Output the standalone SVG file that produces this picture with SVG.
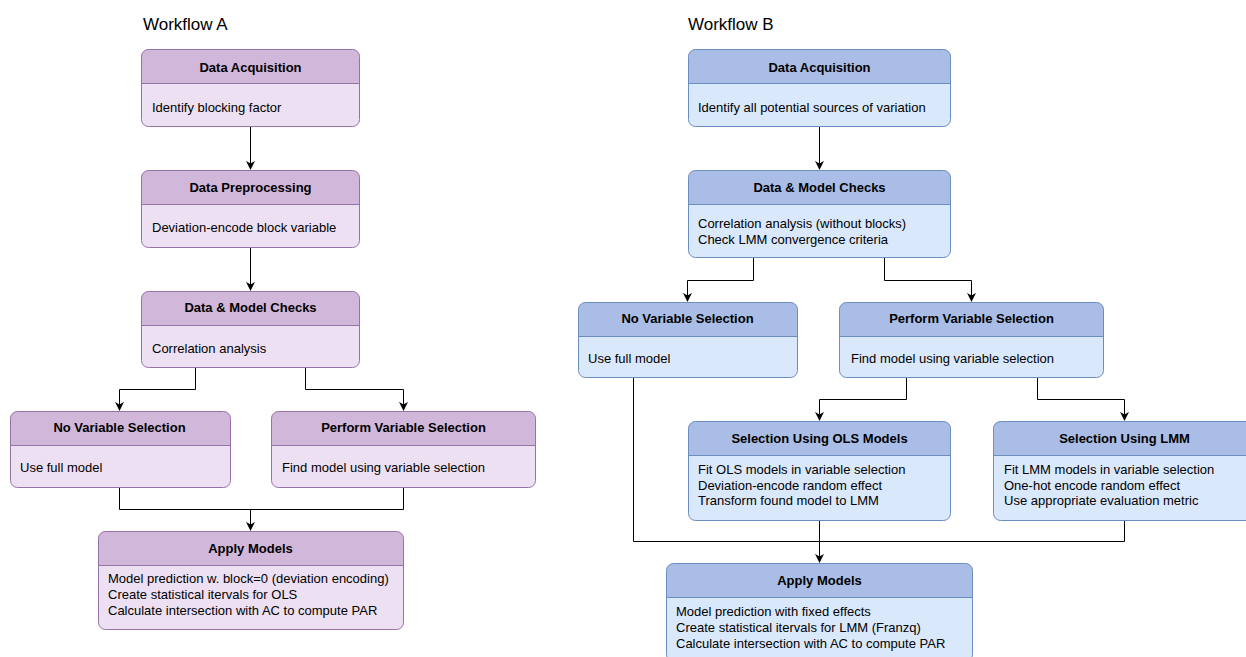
<svg xmlns="http://www.w3.org/2000/svg" width="1246" height="657" viewBox="0 0 1246 657">
  <style>
    text { font-family: "Liberation Sans", Arial, sans-serif; fill: #000; }
    .title { font-size: 17px; }
    .hd { font-size: 13px; font-weight: bold; text-anchor: middle; }
    .bd { font-size: 13px; }
    .pbody { fill: #ede0f3; }
    .phead { fill: #d1b7da; }
    .pline { fill: none; stroke: #9673a6; stroke-width: 1; }
    .bbody { fill: #dae8fc; }
    .bhead { fill: #a9bde6; }
    .bline { fill: none; stroke: #6c8ebf; stroke-width: 1; }
    .conn path { fill: none; stroke: #000; stroke-width: 1; marker-end: url(#arr); }
    .conn path.plain { marker-end: none; }
  </style>
  <defs>
    <marker id="arr" viewBox="0 0 10 10" refX="9" refY="5" markerWidth="9" markerHeight="9" markerUnits="userSpaceOnUse" orient="auto">
      <path d="M0,0 L10,5 L0,10 L3,5 Z" fill="#000"/>
    </marker>
  </defs>
  <rect width="1246" height="657" fill="#fff"/>

  <text class="title" x="143" y="30">Workflow A</text>
  <text class="title" x="688" y="30">Workflow B</text>

  <!-- connectors -->
  <g id="connectors" class="conn">
    <!-- A -->
    <path d="M250.5,127 V169"/>
    <path d="M250.5,247 V290"/>
    <path d="M195.5,367 V389.5 H119.5 V410"/>
    <path d="M305.5,367 V389.5 H403.5 V410"/>
    <path class="plain" d="M119.5,487 V509.5 H403.5 V487"/>
    <path d="M250.5,509.5 V530"/>
    <!-- B -->
    <path d="M819.5,127 V169"/>
    <path d="M753.5,257 V280.5 H687.5 V301"/>
    <path d="M884.5,257 V280.5 H971.5 V301"/>
    <path d="M906.5,377 V399.5 H819.5 V420"/>
    <path d="M1037.5,377 V399.5 H1124.5 V420"/>
    <path class="plain" d="M633.5,377 V541.5 H1124.5 V520"/>
    <path d="M819.5,520 V562"/>
  </g>

  <!-- Workflow A nodes -->
  <g id="a-acq">
    <rect class="pbody" x="141.5" y="49.5" width="218" height="77" rx="7"/>
    <path class="phead" d="M141.5,83.5 V56.5 A7,7 0 0 1 148.5,49.5 H352.5 A7,7 0 0 1 359.5,56.5 V83.5 Z"/>
    <path class="pline" d="M141.5,83.5 H359.5"/>
    <rect class="pline" x="141.5" y="49.5" width="218" height="77" rx="7"/>
    <text class="hd" x="250.5" y="71.5">Data Acquisition</text>
    <text class="bd" x="152" y="112">Identify blocking factor</text>
  </g>
  <g id="a-pre">
    <rect class="pbody" x="141.5" y="170.5" width="218" height="77" rx="7"/>
    <path class="phead" d="M141.5,204.5 V177.5 A7,7 0 0 1 148.5,170.5 H352.5 A7,7 0 0 1 359.5,177.5 V204.5 Z"/>
    <path class="pline" d="M141.5,204.5 H359.5"/>
    <rect class="pline" x="141.5" y="170.5" width="218" height="77" rx="7"/>
    <text class="hd" x="250.5" y="192">Data Preprocessing</text>
    <text class="bd" x="152" y="232">Deviation-encode block variable</text>
  </g>
  <g id="a-checks">
    <rect class="pbody" x="141.5" y="291.5" width="218" height="76" rx="7"/>
    <path class="phead" d="M141.5,325.5 V298.5 A7,7 0 0 1 148.5,291.5 H352.5 A7,7 0 0 1 359.5,298.5 V325.5 Z"/>
    <path class="pline" d="M141.5,325.5 H359.5"/>
    <rect class="pline" x="141.5" y="291.5" width="218" height="76" rx="7"/>
    <text class="hd" x="250.5" y="312">Data &amp; Model Checks</text>
    <text class="bd" x="152" y="353">Correlation analysis</text>
  </g>
  <g id="a-novar">
    <rect class="pbody" x="10.5" y="411.5" width="220" height="76" rx="7"/>
    <path class="phead" d="M10.5,445.5 V418.5 A7,7 0 0 1 17.5,411.5 H223.5 A7,7 0 0 1 230.5,418.5 V445.5 Z"/>
    <path class="pline" d="M10.5,445.5 H230.5"/>
    <rect class="pline" x="10.5" y="411.5" width="220" height="76" rx="7"/>
    <text class="hd" x="119.5" y="432">No Variable Selection</text>
    <text class="bd" x="20" y="472">Use full model</text>
  </g>
  <g id="a-varsel">
    <rect class="pbody" x="271.5" y="411.5" width="264" height="76" rx="7"/>
    <path class="phead" d="M271.5,445.5 V418.5 A7,7 0 0 1 278.5,411.5 H528.5 A7,7 0 0 1 535.5,418.5 V445.5 Z"/>
    <path class="pline" d="M271.5,445.5 H535.5"/>
    <rect class="pline" x="271.5" y="411.5" width="264" height="76" rx="7"/>
    <text class="hd" x="403.5" y="432">Perform Variable Selection</text>
    <text class="bd" x="282" y="472">Find model using variable selection</text>
  </g>
  <g id="a-apply">
    <rect class="pbody" x="98.5" y="531.5" width="305" height="98" rx="7"/>
    <path class="phead" d="M98.5,565.5 V538.5 A7,7 0 0 1 105.5,531.5 H396.5 A7,7 0 0 1 403.5,538.5 V565.5 Z"/>
    <path class="pline" d="M98.5,565.5 H403.5"/>
    <rect class="pline" x="98.5" y="531.5" width="305" height="98" rx="7"/>
    <text class="hd" x="250.5" y="553">Apply Models</text>
    <text class="bd" x="108" y="583">Model prediction w. block=0 (deviation encoding)</text>
    <text class="bd" x="108" y="599">Create statistical itervals for OLS</text>
    <text class="bd" x="108" y="615">Calculate intersection with AC to compute PAR</text>
  </g>

  <!-- Workflow B nodes -->
  <g id="b-acq">
    <rect class="bbody" x="688.5" y="49.5" width="262" height="77" rx="7"/>
    <path class="bhead" d="M688.5,83.5 V56.5 A7,7 0 0 1 695.5,49.5 H943.5 A7,7 0 0 1 950.5,56.5 V83.5 Z"/>
    <path class="bline" d="M688.5,83.5 H950.5"/>
    <rect class="bline" x="688.5" y="49.5" width="262" height="77" rx="7"/>
    <text class="hd" x="819.5" y="71.5">Data Acquisition</text>
    <text class="bd" x="698" y="112">Identify all potential sources of variation</text>
  </g>
  <g id="b-checks">
    <rect class="bbody" x="688.5" y="170.5" width="262" height="87" rx="7"/>
    <path class="bhead" d="M688.5,204.5 V177.5 A7,7 0 0 1 695.5,170.5 H943.5 A7,7 0 0 1 950.5,177.5 V204.5 Z"/>
    <path class="bline" d="M688.5,204.5 H950.5"/>
    <rect class="bline" x="688.5" y="170.5" width="262" height="87" rx="7"/>
    <text class="hd" x="819.5" y="192">Data &amp; Model Checks</text>
    <text class="bd" x="698" y="228">Correlation analysis (without blocks)</text>
    <text class="bd" x="698" y="244">Check LMM convergence criteria</text>
  </g>
  <g id="b-novar">
    <rect class="bbody" x="578.5" y="302.5" width="219" height="75" rx="7"/>
    <path class="bhead" d="M578.5,336.5 V309.5 A7,7 0 0 1 585.5,302.5 H790.5 A7,7 0 0 1 797.5,309.5 V336.5 Z"/>
    <path class="bline" d="M578.5,336.5 H797.5"/>
    <rect class="bline" x="578.5" y="302.5" width="219" height="75" rx="7"/>
    <text class="hd" x="687.5" y="323">No Variable Selection</text>
    <text class="bd" x="588" y="363">Use full model</text>
  </g>
  <g id="b-varsel">
    <rect class="bbody" x="839.5" y="302.5" width="264" height="75" rx="7"/>
    <path class="bhead" d="M839.5,336.5 V309.5 A7,7 0 0 1 846.5,302.5 H1096.5 A7,7 0 0 1 1103.5,309.5 V336.5 Z"/>
    <path class="bline" d="M839.5,336.5 H1103.5"/>
    <rect class="bline" x="839.5" y="302.5" width="264" height="75" rx="7"/>
    <text class="hd" x="971.5" y="323">Perform Variable Selection</text>
    <text class="bd" x="851" y="363">Find model using variable selection</text>
  </g>
  <g id="b-ols">
    <rect class="bbody" x="688.5" y="421.5" width="262" height="99" rx="7"/>
    <path class="bhead" d="M688.5,455.5 V428.5 A7,7 0 0 1 695.5,421.5 H943.5 A7,7 0 0 1 950.5,428.5 V455.5 Z"/>
    <path class="bline" d="M688.5,455.5 H950.5"/>
    <rect class="bline" x="688.5" y="421.5" width="262" height="99" rx="7"/>
    <text class="hd" x="819.5" y="443">Selection Using OLS Models</text>
    <text class="bd" x="698" y="474">Fit OLS models in variable selection</text>
    <text class="bd" x="698" y="490">Deviation-encode random effect</text>
    <text class="bd" x="698" y="505">Transform found model to LMM</text>
  </g>
  <g id="b-lmm">
    <rect class="bbody" x="993.5" y="421.5" width="262" height="99" rx="7"/>
    <path class="bhead" d="M993.5,455.5 V428.5 A7,7 0 0 1 1000.5,421.5 H1248.5 A7,7 0 0 1 1255.5,428.5 V455.5 Z"/>
    <path class="bline" d="M993.5,455.5 H1255.5"/>
    <rect class="bline" x="993.5" y="421.5" width="262" height="99" rx="7"/>
    <text class="hd" x="1124.5" y="443">Selection Using LMM</text>
    <text class="bd" x="1004" y="474">Fit LMM models in variable selection</text>
    <text class="bd" x="1004" y="490">One-hot encode random effect</text>
    <text class="bd" x="1004" y="505">Use appropriate evaluation metric</text>
  </g>
  <g id="b-apply">
    <rect class="bbody" x="666.5" y="563.5" width="306" height="98" rx="7"/>
    <path class="bhead" d="M666.5,597.5 V570.5 A7,7 0 0 1 673.5,563.5 H965.5 A7,7 0 0 1 972.5,570.5 V597.5 Z"/>
    <path class="bline" d="M666.5,597.5 H972.5"/>
    <rect class="bline" x="666.5" y="563.5" width="306" height="98" rx="7"/>
    <text class="hd" x="819.5" y="585">Apply Models</text>
    <text class="bd" x="676" y="616">Model prediction with fixed effects</text>
    <text class="bd" x="676" y="632">Create statistical itervals for LMM (Franzq)</text>
    <text class="bd" x="676" y="648">Calculate intersection with AC to compute PAR</text>
  </g>
</svg>
